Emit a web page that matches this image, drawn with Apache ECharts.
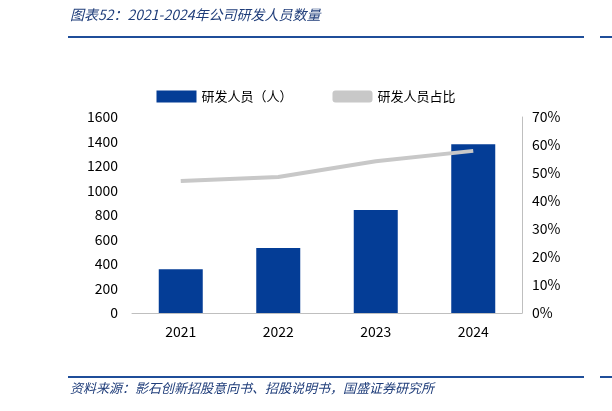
<!DOCTYPE html>
<html><head><meta charset="utf-8">
<script src="https://cdn.jsdelivr.net/npm/echarts@6/dist/echarts.min.js"></script>
<style>body{margin:0;background:#fff}#c{width:612px;height:411px}</style>
</head><body><div id="c"></div>
<script>
const categories = ['2021','2022','2023','2024'];
const staff = [358, 530, 840, 1378];
const ratio = [47.1, 48.6, 54.2, 57.9];
const chart = echarts.init(document.getElementById('c'));
const font = '"Noto Sans CJK SC", "Noto Sans", sans-serif';
chart.setOption({
  animation:false,
  textStyle:{fontFamily:font},
  graphic:[
    {type:'text',left:70,top:8,style:{text:'图表52：2021-2024年公司研发人员数量',fill:'#1f3d7a',font:'italic 14px '+font}},
    {type:'rect',shape:{x:68,y:36,width:516,height:2},style:{fill:'#1f4e99'}},
    {type:'rect',shape:{x:600,y:36,width:12,height:2},style:{fill:'#1f4e99'}},
    {type:'rect',shape:{x:68,y:376,width:516,height:2},style:{fill:'#1f4e99'}},
    {type:'rect',shape:{x:600,y:376,width:12,height:2},style:{fill:'#1f4e99'}},
    {type:'text',left:70,top:382,style:{text:'资料来源：影石创新招股意向书、招股说明书，国盛证券研究所',fill:'#1f3d7a',font:'italic 13px '+font}}
  ],
  legend:{top:85,left:'center',itemGap:40,itemWidth:40,itemHeight:12,textStyle:{fontSize:13,color:'#000'},
    data:[{name:'研发人员（人）',icon:'rect'},{name:'研发人员占比',icon:'roundRect'}]},
  grid:{left:132,right:90,top:117,bottom:98},
  xAxis:{type:'category',data:categories,axisTick:{show:false},axisLine:{lineStyle:{color:'#bfbfbf'}},
    axisLabel:{color:'#000',fontSize:14,margin:12}},
  yAxis:[
    {type:'value',min:0,max:1600,interval:200,axisLine:{show:false},axisTick:{show:false},splitLine:{show:false},
      axisLabel:{color:'#000',fontSize:14,margin:14,formatter:v=>String(v)}},
    {type:'value',min:0,max:70,interval:10,axisLine:{show:true,lineStyle:{color:'#bfbfbf'}},axisTick:{show:false},splitLine:{show:false},
      axisLabel:{color:'#000',fontSize:14,formatter:'{value}%',margin:10}}
  ],
  series:[
    {name:'研发人员（人）',type:'bar',data:staff,barWidth:44,itemStyle:{color:'#043d96'}},
    {name:'研发人员占比',type:'line',yAxisIndex:1,data:ratio,symbol:'none',lineStyle:{color:'#c8c8c8',width:4},itemStyle:{color:'#c8c8c8'}}
  ]
});
</script></body></html>
